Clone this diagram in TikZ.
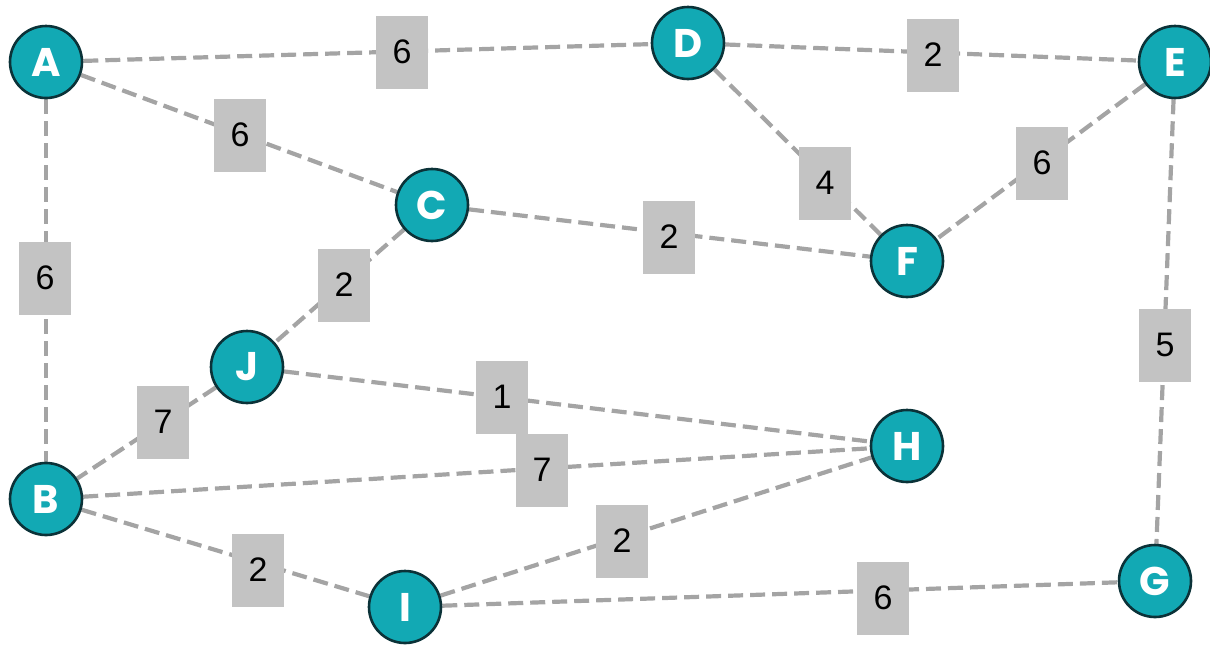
\documentclass[tikz,border=0pt]{standalone}
\usepackage{fontspec}
\setmainfont{Liberation Sans}
\newfontfamily\nodefont{Poppins}
\usetikzlibrary{backgrounds}
\definecolor{teal1}{HTML}{12A9B4}
\definecolor{rim}{HTML}{0B3238}
\definecolor{edgegray}{HTML}{A4A4A4}
\definecolor{boxgray}{HTML}{C3C3C3}
\tikzset{
  vert/.style={circle, minimum size=72pt, inner sep=0pt, fill=teal1, draw=rim, line width=2.6pt,
    text=white, font=\nodefont\bfseries\fontsize{40}{40}\selectfont},
  wlabel/.style={rectangle, minimum width=52pt, minimum height=73pt, inner sep=0pt, fill=boxgray,
    text=black, font=\fontsize{34}{34}\selectfont},
  link/.style={draw=edgegray, line width=4.2pt, dash pattern=on 15pt off 7pt}
}
\begin{document}
\begin{tikzpicture}[x=1pt,y=-1pt]
\useasboundingbox (0,0) rectangle (1210,649);
% vertices
\node[vert] (A) at (46,62) {A};
\node[vert] (D) at (688,43) {D};
\node[vert] (E) at (1175,62) {E};
\node[vert] (C) at (432,205) {C};
\node[vert] (F) at (907,261) {F};
\node[vert] (J) at (247,367) {J};
\node[vert] (H) at (907,446) {H};
\node[vert] (B) at (46,499) {B};
\node[vert] (I) at (405,607) {I};
\node[vert] (G) at (1155,581) {G};
% weights
\node[wlabel] (lAD) at (402,52) {6};
\node[wlabel] (lDE) at (933,55) {2};
\node[wlabel] (lAC) at (240,135) {6};
\node[wlabel] (lAB) at (45,278) {6};
\node[wlabel] (lDF) at (825,183) {4};
\node[wlabel] (lEF) at (1042,163) {6};
\node[wlabel] (lCF) at (669,237) {2};
\node[wlabel] (lCJ) at (344,285) {2};
\node[wlabel] (lJB) at (163,422) {7};
\node[wlabel] (lJH) at (502,397) {1};
\node[wlabel] (lBH) at (542,470) {7};
\node[wlabel] (lBI) at (258,570) {2};
\node[wlabel] (lIH) at (622,541) {2};
\node[wlabel] (lIG) at (883,598) {6};
\node[wlabel] (lEG) at (1165,345) {5};
\begin{scope}[on background layer]
\begin{pgfinterruptboundingbox}
\path[link] (A) -- (D);
\path[link] (D) -- (E);
\path[link] (A) -- (C);
\path[link] (A) -- (B);
\path[link] (D) -- (F);
\path[link] (E) -- (F);
\path[link] (C) -- (F);
\path[link] (C) -- (J);
\path[link] (J) -- (B);
\path[link] (J) -- (H);
\path[link] (B) -- (H);
\path[link] (B) -- (I);
\path[link] (I) -- (H);
\path[link] (I) -- (G);
\path[link] (E) -- (G);
\end{pgfinterruptboundingbox}
\end{scope}
\end{tikzpicture}
\end{document}
